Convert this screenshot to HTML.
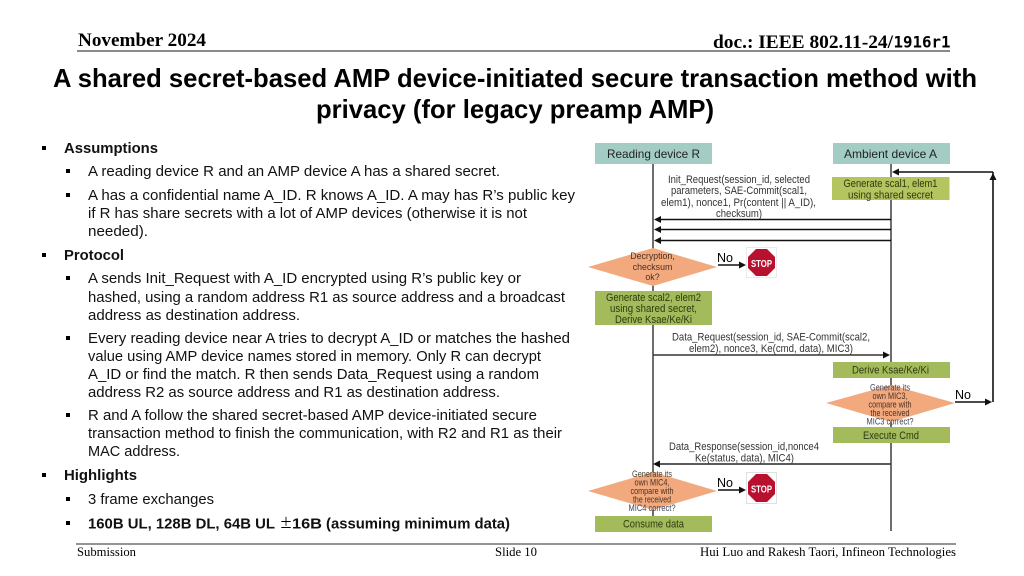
<!DOCTYPE html>
<html>
<head>
<meta charset="utf-8">
<style>
html,body{margin:0;padding:0;background:#fff;width:1024px;height:576px;overflow:hidden}
svg{display:block}
text{font-family:"Liberation Sans","Noto Sans CJK SC",sans-serif;fill:#000}
.t{font-family:"Liberation Serif",serif}
.b{font-size:14.6px;fill:#111}
.d{font-size:10.6px;fill:#333;text-anchor:middle}
.g{font-size:10.6px;fill:#2d3a10;text-anchor:middle}
.m{font-size:8.8px;fill:#4a3020;text-anchor:middle}
.h{font-size:12px;fill:#222;text-anchor:middle}
.l{stroke:#111;stroke-width:1.6}
.v{stroke:#4a4a4a;stroke-width:1.6}
</style>
</head>
<body>
<svg width="1024" height="576" viewBox="0 0 1024 576" xmlns="http://www.w3.org/2000/svg">
<rect width="1024" height="576" fill="#fff"/>
<!-- header -->
<text class="t" x="78" y="46" font-size="19" font-weight="bold" textLength="128" lengthAdjust="spacingAndGlyphs">November 2024</text>
<line x1="77" y1="51" x2="950" y2="51" stroke="#444" stroke-width="1.2"/>
<text class="t" x="713" y="48" font-size="19" font-weight="bold" textLength="180" lengthAdjust="spacingAndGlyphs">doc.: IEEE 802.11-24/</text>
<text x="893.500" y="47.500" font-size="15.800" font-weight="bold" style="font-family:'DejaVu Sans Mono',monospace" textLength="57" lengthAdjust="spacingAndGlyphs">1916r1</text>
<!-- title -->
<text x="515" y="87" font-size="25.600" font-weight="bold" text-anchor="middle" textLength="924" lengthAdjust="spacingAndGlyphs">A shared secret-based AMP device-initiated secure transaction method with</text>
<text x="515" y="118" font-size="25.600" font-weight="bold" text-anchor="middle" textLength="398" lengthAdjust="spacingAndGlyphs">privacy (for legacy preamp AMP)</text>
<!-- bullets -->
<g fill="#000">
<rect x="42" y="146" width="4" height="4"/>
<rect x="42" y="253" width="4" height="4"/>
<rect x="42" y="473" width="4" height="4"/>
<rect x="66" y="169" width="4" height="4"/>
<rect x="66" y="193" width="4" height="4"/>
<rect x="66" y="276" width="4" height="4"/>
<rect x="66" y="336" width="4" height="4"/>
<rect x="66" y="413" width="4" height="4"/>
<rect x="66" y="497" width="4" height="4"/>
<rect x="66" y="521" width="4" height="4"/>
</g>
<!-- body -->
<text class="b" x="64" y="153" font-weight="bold" textLength="94" lengthAdjust="spacingAndGlyphs">Assumptions</text>
<text class="b" x="88" y="176" textLength="412" lengthAdjust="spacingAndGlyphs">A reading device R and an AMP device A has a shared secret.</text>
<text class="b" x="88" y="200" textLength="487" lengthAdjust="spacingAndGlyphs">A has a confidential name A_ID. R knows A_ID. A may has R’s public key</text>
<text class="b" x="88" y="218" textLength="439" lengthAdjust="spacingAndGlyphs">if R has share secrets with a lot of AMP devices (otherwise it is not</text>
<text class="b" x="88" y="236" textLength="60" lengthAdjust="spacingAndGlyphs">needed).</text>
<text class="b" x="64" y="260" font-weight="bold" textLength="60" lengthAdjust="spacingAndGlyphs">Protocol</text>
<text class="b" x="88" y="283" textLength="433" lengthAdjust="spacingAndGlyphs">A sends Init_Request with A_ID encrypted using R’s public key or</text>
<text class="b" x="88" y="302" textLength="477" lengthAdjust="spacingAndGlyphs">hashed, using a random address R1 as source address and a broadcast</text>
<text class="b" x="88" y="320" textLength="212" lengthAdjust="spacingAndGlyphs">address as destination address.</text>
<text class="b" x="88" y="343" textLength="482" lengthAdjust="spacingAndGlyphs">Every reading device near A tries to decrypt A_ID or matches the hashed</text>
<text class="b" x="88" y="361" textLength="453" lengthAdjust="spacingAndGlyphs">value using AMP device names stored in memory. Only R can decrypt</text>
<text class="b" x="88" y="379" textLength="451" lengthAdjust="spacingAndGlyphs">A_ID or find the match. R then sends Data_Request using a random</text>
<text class="b" x="88" y="397" textLength="412" lengthAdjust="spacingAndGlyphs">address R2 as source address and R1 as destination address.</text>
<text class="b" x="88" y="420" textLength="449" lengthAdjust="spacingAndGlyphs">R and A follow the shared secret-based AMP device-initiated secure</text>
<text class="b" x="88" y="438" textLength="474" lengthAdjust="spacingAndGlyphs">transaction method to finish the communication, with R2 and R1 as their</text>
<text class="b" x="88" y="456" textLength="92" lengthAdjust="spacingAndGlyphs">MAC address.</text>
<text class="b" x="64" y="480" font-weight="bold" textLength="73" lengthAdjust="spacingAndGlyphs">Highlights</text>
<text class="b" x="88" y="504" textLength="126" lengthAdjust="spacingAndGlyphs">3 frame exchanges</text>
<text class="b" x="88" y="528.500" font-weight="bold" textLength="187" lengthAdjust="spacingAndGlyphs">160B UL, 128B DL, 64B UL</text>
<text x="279.500" y="528.500" font-size="14" fill="#111" textLength="13" lengthAdjust="spacingAndGlyphs" style="font-family:'Noto Sans CJK SC',sans-serif">±</text>
<text class="b" x="292" y="528.500" font-weight="bold" textLength="30" lengthAdjust="spacingAndGlyphs">16B</text>
<text class="b" x="326" y="528.500" font-weight="bold" textLength="184" lengthAdjust="spacingAndGlyphs">(assuming minimum data)</text>
<!-- diagram -->
<g style="filter:blur(0.35px)">
<line class="v" x1="653" y1="164" x2="653" y2="516"/>
<line class="v" x1="891" y1="164" x2="891" y2="531"/>
<rect x="595" y="143" width="117" height="21" fill="#a3cdc4"/>
<rect x="833" y="143" width="117" height="21" fill="#a3cdc4"/>
<text class="h" x="653.500" y="158" textLength="93" lengthAdjust="spacingAndGlyphs">Reading device R</text>
<text class="h" x="890.500" y="158" textLength="93" lengthAdjust="spacingAndGlyphs">Ambient device A</text>
<rect x="832" y="177" width="117.500" height="23" fill="#b4c45e"/>
<text class="g" x="890.500" y="187" textLength="94" lengthAdjust="spacingAndGlyphs">Generate scal1, elem1</text>
<text class="g" x="890.500" y="198.500" textLength="85" lengthAdjust="spacingAndGlyphs">using shared secret</text>
<!-- init text -->
<text class="d" x="739" y="183" textLength="142" lengthAdjust="spacingAndGlyphs">Init_Request(session_id, selected</text>
<text class="d" x="739" y="194" textLength="136" lengthAdjust="spacingAndGlyphs">parameters, SAE-Commit(scal1,</text>
<text class="d" x="738.500" y="206" textLength="155" lengthAdjust="spacingAndGlyphs">elem1), nonce1, Pr(content || A_ID),</text>
<text class="d" x="739" y="217" textLength="46" lengthAdjust="spacingAndGlyphs">checksum)</text>
<!-- arrows -->
<line class="l" x1="658" y1="219.500" x2="891" y2="219.500"/>
<line class="l" x1="658" y1="229.500" x2="891" y2="229.500"/>
<line class="l" x1="658" y1="240.500" x2="891" y2="240.500"/>
<line class="l" x1="897" y1="172" x2="993" y2="172"/>
<line class="l" x1="993" y1="172" x2="993" y2="402"/>
<line class="l" x1="955" y1="402" x2="988" y2="402"/>
<line class="l" x1="718" y1="265" x2="742" y2="265"/>
<line class="l" x1="718" y1="490" x2="742" y2="490"/>
<line x1="653" y1="355" x2="886" y2="355" stroke="#333" stroke-width="1.600"/>
<line x1="658" y1="464" x2="891" y2="464" stroke="#444" stroke-width="1.800"/>
<g fill="#111">
<polygon points="654,219.500 661,216 661,223"/>
<polygon points="654,229.500 661,226 661,233"/>
<polygon points="654,240.500 661,237 661,244"/>
<polygon points="892,172 899,168.500 899,175.500"/>
<polygon points="993,173 989.500,180 996.500,180"/>
<polygon points="992,402 985,398.500 985,405.500"/>
<polygon points="746,265 739,261.500 739,268.500"/>
<polygon points="746,490 739,486.500 739,493.500"/>
<polygon points="890,355 883,351.500 883,358.500"/>
<polygon points="653,464 660,460.500 660,467.500"/>
</g>
<!-- diamond 1 -->
<polygon points="588,267 653,248 717,267 653,286" fill="#f2a97d"/>
<text class="m" x="652.500" y="259" font-size="9">Decryption,</text>
<text class="m" x="652.500" y="270" font-size="9">checksum</text>
<text class="m" x="652.500" y="280" font-size="9">ok?</text>
<text x="717" y="262" font-size="12.500" fill="#111">No</text>
<!-- stop 1 -->
<rect x="746.500" y="247.500" width="30" height="30" fill="#fff" stroke="#ddd" stroke-width="0.6"/>
<polygon points="756,249 767,249 775,257 775,268 767,276 756,276 748,268 748,257" fill="#b8102e"/>
<text x="761.500" y="267" font-size="10.500" font-weight="bold" text-anchor="middle" style="fill:#fff" textLength="21" lengthAdjust="spacingAndGlyphs">STOP</text>
<!-- generate scal2 -->
<rect x="595" y="291" width="117" height="34" fill="#a4bb5c"/>
<text class="g" x="653.500" y="301" textLength="95" lengthAdjust="spacingAndGlyphs">Generate scal2, elem2</text>
<text class="g" x="653.500" y="312" textLength="87" lengthAdjust="spacingAndGlyphs">using shared secret,</text>
<text class="g" x="653.500" y="323" textLength="77" lengthAdjust="spacingAndGlyphs">Derive Ksae/Ke/Ki</text>
<!-- data request -->
<text class="d" x="771" y="340.500" textLength="198" lengthAdjust="spacingAndGlyphs">Data_Request(session_id, SAE-Commit(scal2,</text>
<text class="d" x="771" y="352" textLength="164" lengthAdjust="spacingAndGlyphs">elem2), nonce3, Ke(cmd, data), MIC3)</text>
<!-- derive -->
<rect x="833" y="362" width="117" height="16" fill="#a4bb5c"/>
<text class="g" x="890.500" y="373.500" textLength="77" lengthAdjust="spacingAndGlyphs">Derive Ksae/Ke/Ki</text>
<!-- diamond 2 -->
<polygon points="826,403 891,385 955,403 891,422" fill="#f2a97d"/>
<text class="m" x="890" y="390.500" style="fill:#3d4558" textLength="40" lengthAdjust="spacingAndGlyphs">Generate its</text>
<text class="m" x="890" y="399" textLength="35" lengthAdjust="spacingAndGlyphs">own MIC3,</text>
<text class="m" x="890" y="407.500" textLength="43" lengthAdjust="spacingAndGlyphs">compare with</text>
<text class="m" x="890" y="416" textLength="39" lengthAdjust="spacingAndGlyphs">the received</text>
<text class="m" x="890" y="424.500" style="fill:#3d4558" textLength="47" lengthAdjust="spacingAndGlyphs">MIC3 correct?</text>
<text x="955" y="399" font-size="12.500" fill="#111">No</text>
<!-- execute -->
<rect x="833" y="427" width="117" height="16" fill="#a4bb5c"/>
<text class="g" x="891" y="439" textLength="56" lengthAdjust="spacingAndGlyphs">Execute Cmd</text>
<!-- data response -->
<text class="d" x="744" y="450" textLength="150" lengthAdjust="spacingAndGlyphs">Data_Response(session_id,nonce4</text>
<text class="d" x="744.500" y="461.500" textLength="99" lengthAdjust="spacingAndGlyphs">Ke(status, data), MIC4)</text>
<!-- diamond 3 -->
<polygon points="588,491 653,472 717,491 653,510" fill="#f2a97d"/>
<text class="m" x="652" y="477" style="fill:#4a4030" textLength="40" lengthAdjust="spacingAndGlyphs">Generate its</text>
<text class="m" x="652" y="485.500" textLength="35" lengthAdjust="spacingAndGlyphs">own MIC4,</text>
<text class="m" x="652" y="494" textLength="43" lengthAdjust="spacingAndGlyphs">compare with</text>
<text class="m" x="652" y="502.500" textLength="38" lengthAdjust="spacingAndGlyphs">the received</text>
<text class="m" x="652" y="511" style="fill:#3d4558" textLength="47" lengthAdjust="spacingAndGlyphs">MIC4 correct?</text>
<text x="717" y="487" font-size="12.500" fill="#111">No</text>
<!-- stop 2 -->
<rect x="746.500" y="472.500" width="30" height="31" fill="#fff" stroke="#ccc" stroke-width="0.6"/>
<polygon points="756,474 767,474 775,482 775,494 767,502 756,502 748,494 748,482" fill="#b8102e"/>
<text x="761.500" y="492.500" font-size="10.500" font-weight="bold" text-anchor="middle" style="fill:#fff" textLength="21" lengthAdjust="spacingAndGlyphs">STOP</text>
<!-- consume -->
<rect x="595" y="516" width="117" height="16" fill="#a4bb5c"/>
<text class="g" x="653.500" y="527.500" textLength="61" lengthAdjust="spacingAndGlyphs">Consume data</text>
</g>
<!-- footer -->
<line x1="76" y1="544" x2="956" y2="544" stroke="#555" stroke-width="1.3"/>
<text class="t" x="77" y="556" font-size="12.800" textLength="59" lengthAdjust="spacingAndGlyphs">Submission</text>
<text class="t" x="495" y="556" font-size="12.800" textLength="42" lengthAdjust="spacingAndGlyphs">Slide 10</text>
<text class="t" x="700" y="556" font-size="12.800" textLength="256" lengthAdjust="spacingAndGlyphs">Hui Luo and Rakesh Taori, Infineon Technologies</text>
</svg>
</body>
</html>
